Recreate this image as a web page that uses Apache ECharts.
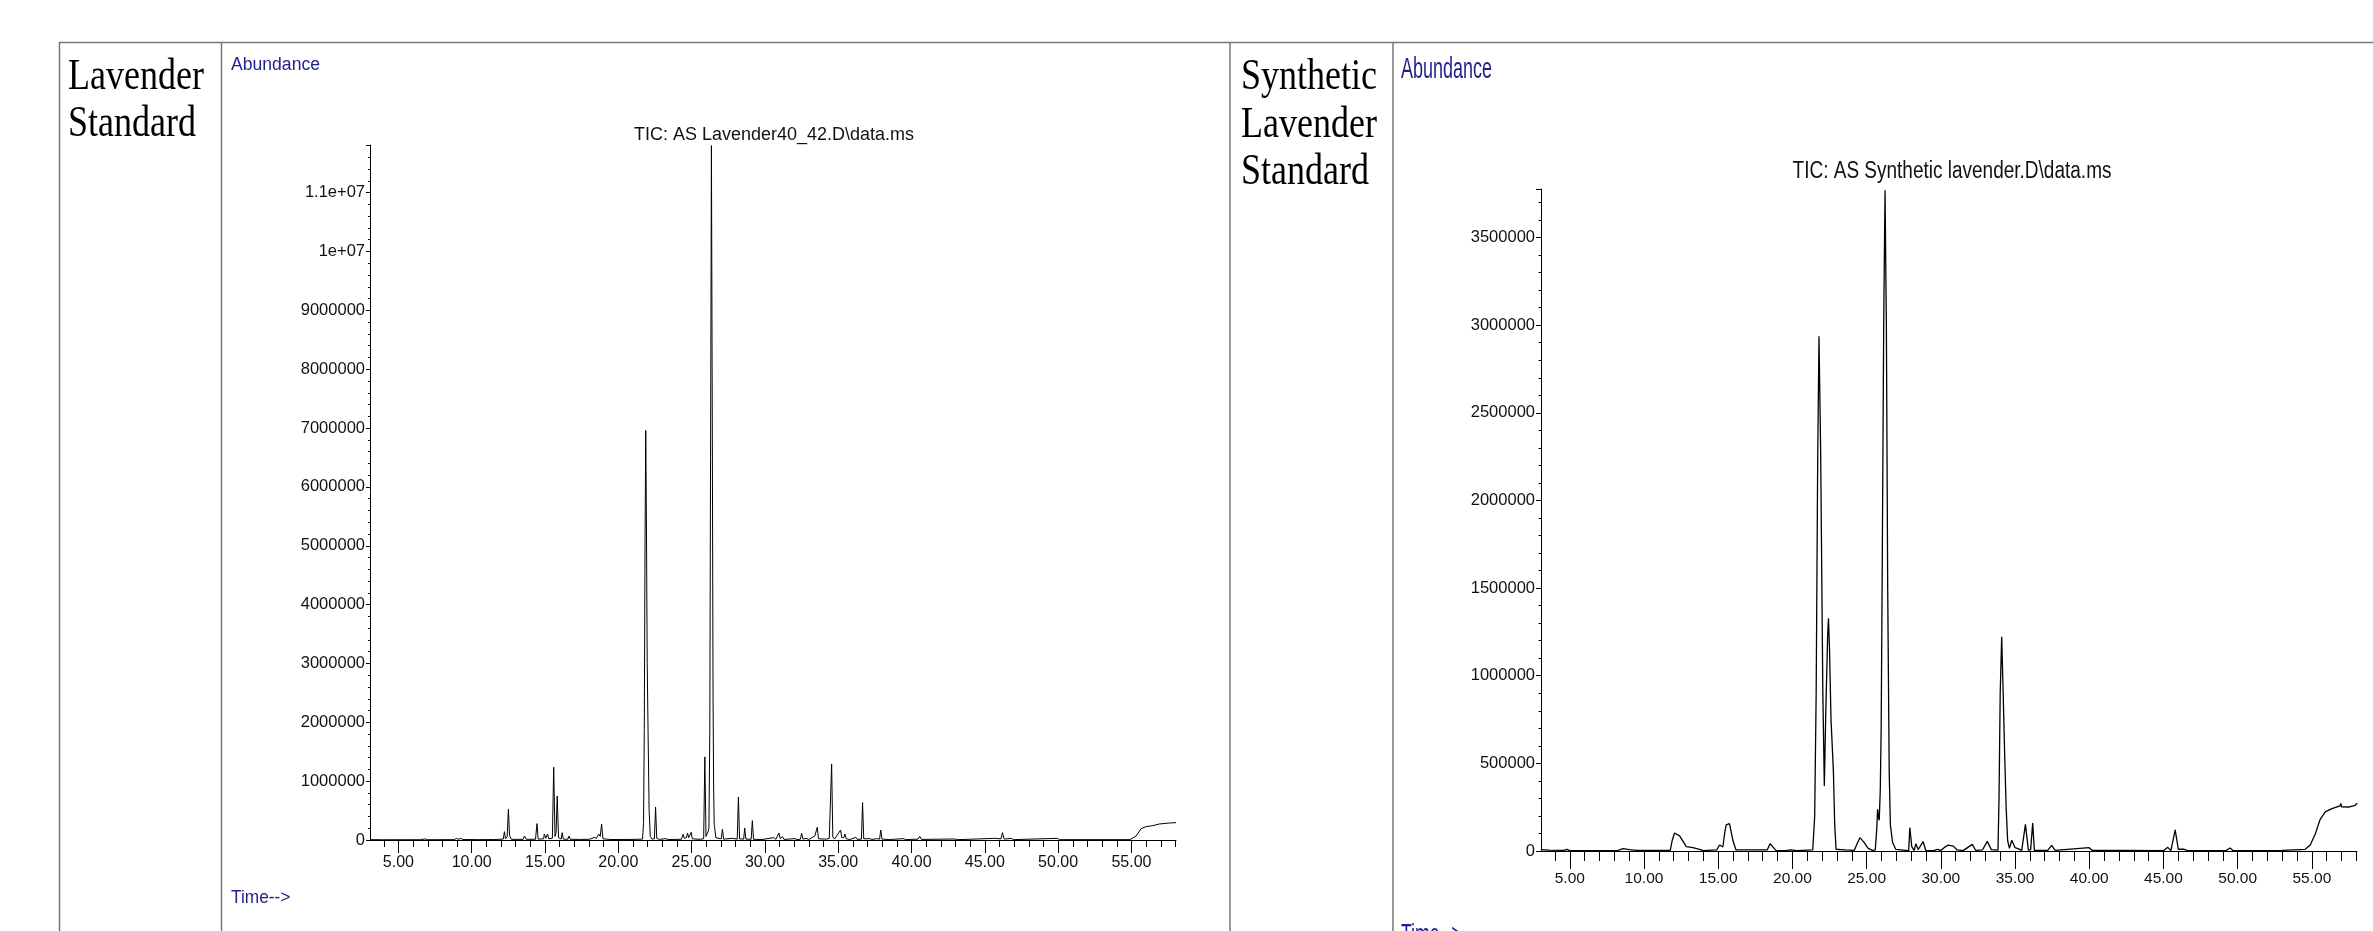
<!DOCTYPE html>
<html>
<head>
<meta charset="utf-8">
<title>TIC chromatograms</title>
<script src="https://cdn.jsdelivr.net/npm/echarts@6/dist/echarts.min.js"></script>
<style>
  html, body { margin: 0; padding: 0; background: #fff; }
  #chart { width: 2373px; height: 931px; }
</style>
</head>
<body>
<div id="chart"></div>
<script>
// [time (min), abundance]
const lavenderTrace = [
  [3.06, 6000], [4.0, 4000], [6.5, 5000], [6.8, 18000], [7.0, 5000],
  [8.8, 6000], [8.95, 25000], [9.1, 12000], [9.25, 28000], [9.4, 8000],
  [10.5, 6000], [11.5, 8000], [12.15, 15000], [12.23, 142000], [12.3, 20000],
  [12.42, 60000], [12.5, 521000], [12.58, 80000], [12.7, 12000],
  [13.5, 10000], [13.6, 68000], [13.72, 12000], [14.35, 12000], [14.45, 278000],
  [14.53, 15000], [14.9, 20000], [14.95, 102000], [15.05, 30000], [15.17, 102000],
  [15.25, 20000], [15.5, 30000], [15.59, 1236000], [15.68, 60000], [15.75, 120000],
  [15.83, 748000], [15.92, 40000], [16.1, 15000], [16.17, 125000], [16.25, 15000],
  [16.55, 12000], [16.63, 68000], [16.72, 12000], [17.25, 10000], [17.33, 40000],
  [17.42, 10000], [18.0, 12000], [18.1, 45000], [18.2, 25000], [18.35, 45000],
  [18.5, 30000], [18.67, 100000], [18.76, 60000], [18.86, 272000], [18.95, 20000],
  [19.5, 8000], [21.0, 10000], [21.65, 15000], [21.72, 300000], [21.77, 1900000],
  [21.82, 5000000], [21.87, 6960000], [21.92, 5200000], [21.97, 3000000],
  [22.03, 1800000], [22.1, 500000], [22.18, 60000], [22.3, 15000],
  [22.46, 20000], [22.54, 561000], [22.62, 30000], [22.8, 10000],
  [23.24, 23000], [23.4, 8000], [24.3, 12000], [24.42, 96000], [24.5, 30000],
  [24.65, 40000], [24.72, 119000], [24.8, 40000], [24.97, 130000], [25.05, 20000],
  [25.5, 12000], [25.82, 20000], [25.9, 1412000], [25.98, 60000], [26.05, 70000],
  [26.12, 142000], [26.18, 200000], [26.24, 1900000], [26.29, 6500000],
  [26.35, 11800000], [26.41, 7000000], [26.46, 2500000], [26.5, 900000],
  [26.54, 260000], [26.57, 215000], [26.65, 40000], [27.02, 20000],
  [27.1, 181000], [27.18, 15000], [27.78, 28000], [27.9, 10000], [28.11, 15000],
  [28.19, 731000], [28.27, 20000], [28.55, 15000], [28.62, 204000], [28.7, 15000],
  [29.06, 12000], [29.14, 329000], [29.22, 12000], [29.8, 8000], [30.6, 40000],
  [30.75, 12000], [30.95, 119000], [31.05, 20000], [31.2, 57000], [31.3, 10000],
  [32.05, 23000], [32.2, 8000], [32.42, 12000], [32.5, 113000], [32.6, 15000],
  [32.8, 28000], [33.0, 10000], [33.4, 68000], [33.5, 40000], [33.57, 215000],
  [33.65, 20000], [34.2, 15000], [34.39, 28000], [34.47, 40000], [34.55, 1293000],
  [34.63, 50000], [34.75, 15000], [35.16, 170000], [35.24, 40000], [35.3, 68000],
  [35.38, 40000], [35.45, 102000], [35.55, 20000], [35.68, 28000], [35.8, 8000],
  [36.2, 45000], [36.3, 10000], [36.58, 15000], [36.66, 635000], [36.74, 20000],
  [37.16, 23000], [37.3, 8000], [37.6, 23000], [37.82, 15000], [37.9, 170000],
  [37.98, 15000], [38.5, 8000], [39.43, 23000], [39.6, 6000], [40.45, 15000],
  [40.56, 62000], [40.68, 10000], [42.95, 17000], [43.1, 5000], [45.67, 28000],
  [45.8, 10000], [46.1, 20000], [46.2, 125000], [46.32, 15000], [46.8, 28000],
  [46.95, 6000], [49.96, 28000], [50.1, 6000], [54.9, 6000], [55.0, 15000],
  [55.32, 68000], [55.66, 193000], [56.0, 227000], [56.46, 244000], [56.9, 272000],
  [57.0, 262000], [57.6, 289000], [58.04, 295000]
];

const syntheticTrace = [
  [3.05, 8000], [3.6, 5000], [4.6, 3000], [4.8, 9000], [5.0, 2000],
  [8.25, 4000], [8.59, 13000], [9.0, 8000], [9.5, 3000], [11.77, 4000],
  [11.9, 60000], [12.06, 103000], [12.4, 86000], [12.85, 25000], [13.3, 19000],
  [13.74, 9500], [14.0, 2000], [14.9, 6000], [15.09, 34000], [15.31, 23000],
  [15.45, 110000], [15.54, 149000], [15.76, 156000], [16.0, 57000], [16.2, 6000],
  [18.3, 6000], [18.5, 42000], [18.9, 2000], [19.6, 3000], [19.9, 6000],
  [20.3, 2000], [21.37, 6000], [21.5, 200000], [21.6, 900000], [21.7, 2200000],
  [21.79, 2937000], [21.9, 2300000], [22.05, 900000], [22.15, 371000],
  [22.25, 800000], [22.38, 1250000], [22.43, 1328000], [22.5, 1150000],
  [22.6, 750000], [22.76, 457000], [22.85, 150000], [22.94, 10000],
  [23.27, 8000], [23.6, 6000], [24.17, 4000], [24.35, 40000], [24.55, 76000],
  [24.84, 48000], [25.1, 15000], [25.4, 4000], [25.58, 6000], [25.68, 120000],
  [25.74, 238000], [25.8, 195000], [25.85, 175000], [25.92, 350000],
  [25.98, 700000], [26.05, 1600000], [26.15, 3000000], [26.24, 3770000],
  [26.33, 3000000], [26.42, 1500000], [26.52, 457000], [26.6, 150000],
  [26.75, 48000], [26.97, 9000], [27.1, 2000], [27.83, 2000], [27.91, 133000],
  [28.04, 25000], [28.2, 3000], [28.32, 42000], [28.47, 8000], [28.81, 53000],
  [28.98, 4000], [29.5, 2000], [29.78, 9500], [30.0, 3000], [30.22, 19000],
  [30.5, 34000], [30.84, 28000], [31.1, 6000], [31.5, 2000], [32.12, 38000],
  [32.35, 3000], [32.8, 6000], [33.13, 55000], [33.4, 8000], [33.85, 5000],
  [33.92, 300000], [34.0, 900000], [34.1, 1223000], [34.2, 900000],
  [34.3, 550000], [34.4, 250000], [34.5, 60000], [34.62, 15000], [34.78, 61000],
  [35.0, 19000], [35.2, 13000], [35.45, 4000], [35.7, 152000], [35.9, 4000],
  [36.05, 8000], [36.19, 160000], [36.3, 4000], [37.2, 4000], [37.47, 32000],
  [37.7, 4000], [39.99, 19000], [40.2, 4000], [42.4, 4000], [45.0, 2000],
  [45.29, 21000], [45.5, 2000], [45.79, 120000], [46.0, 10000], [46.35, 11000],
  [46.6, 3000], [49.2, 2000], [49.49, 17000], [49.7, 2000], [53.0, 4000],
  [54.55, 9500], [54.89, 34000], [55.22, 95000], [55.56, 181000], [55.9, 223000],
  [56.35, 242000], [56.9, 257000], [56.95, 272000], [57.0, 252000],
  [57.47, 251000], [57.92, 261000], [58.05, 272000]
];

// labelled time ticks, and the per-minute small ticks
const timeLabels = [5, 10, 15, 20, 25, 30, 35, 40, 45, 50, 55];
const minuteTicks = [];
for (let m = 4; m <= 58; m++) minuteTicks.push(m);

const titles = ["TIC: AS Lavender40_42.D\\data.ms", "TIC: AS Synthetic lavender.D\\data.ms"];
const sampleNames = ["Lavender\nStandard", "Synthetic\nLavender\nStandard"];

const chart = echarts.init(document.getElementById("chart"), null, { renderer: "canvas" });

const SANS = "Liberation Sans, Arial, sans-serif";
const SERIF = "Liberation Serif, Times New Roman, serif";

function expLabel(v) {
  if (v >= 1e7) return v.toExponential().replace(/e\+(\d)$/, "e+0$1");
  return String(v);
}

// main time axis (labels + long ticks) and a twin for the minute ticks
function timeAxes(grid, fontSize, margin, bigTick, smallTick) {
  return [
    {
      type: "value", gridIndex: grid, min: 3.06, max: 58.04, position: "bottom",
      axisLine: { show: true, onZero: false, lineStyle: { color: "#000", width: 1 } },
      axisTick: { show: true, customValues: timeLabels, length: bigTick, lineStyle: { color: "#000" } },
      axisLabel: {
        show: true, customValues: timeLabels, margin: margin,
        fontFamily: SANS, fontSize: fontSize, color: "#111",
        formatter: v => v.toFixed(2)
      },
      splitLine: { show: false }
    },
    {
      type: "value", gridIndex: grid, min: 3.06, max: 58.04, position: "bottom",
      axisLine: { show: false },
      axisTick: { show: true, customValues: minuteTicks, length: smallTick, lineStyle: { color: "#000" } },
      axisLabel: { show: false },
      splitLine: { show: false }
    }
  ];
}

const option = {
  animation: false,
  backgroundColor: "#fff",
  grid: [
    { left: 370, top: 145, width: 806, height: 695 },
    { left: 1541, top: 189, width: 816, height: 662 }
  ],
  xAxis: [].concat(timeAxes(0, 16, 15, 13, 7), timeAxes(1, 15.5, 20, 18, 10)),
  yAxis: [
    {
      type: "value", gridIndex: 0, min: 0, max: 11810000, interval: 1000000,
      axisLine: { show: true, lineStyle: { color: "#000", width: 1 } },
      axisTick: { show: true, length: 4, lineStyle: { color: "#000" } },
      minorTick: { show: true, splitNumber: 5, length: 2, lineStyle: { color: "#000" } },
      axisLabel: {
        margin: 5, fontFamily: SANS, fontSize: 16.5, color: "#111",
        showMaxLabel: false, formatter: expLabel
      },
      splitLine: { show: false }
    },
    {
      type: "value", gridIndex: 1, min: 0, max: 3777000, interval: 500000,
      axisLine: { show: true, lineStyle: { color: "#000", width: 1 } },
      axisTick: { show: true, length: 5, lineStyle: { color: "#000" } },
      minorTick: { show: true, splitNumber: 5, length: 2.5, lineStyle: { color: "#000" } },
      axisLabel: {
        margin: 6, fontFamily: SANS, fontSize: 16.5, color: "#111",
        showMaxLabel: false, formatter: v => String(v)
      },
      splitLine: { show: false }
    }
  ],
  series: [
    {
      name: titles[0], type: "line", xAxisIndex: 0, yAxisIndex: 0,
      data: lavenderTrace, symbol: "none", silent: true,
      lineStyle: { color: "#000", width: 1 }
    },
    {
      name: titles[1], type: "line", xAxisIndex: 2, yAxisIndex: 1,
      data: syntheticTrace, symbol: "none", silent: true,
      lineStyle: { color: "#000", width: 1.3 }
    }
  ],
  graphic: [
    // table frame
    { type: "line", shape: { x1: 59, y1: 42.5, x2: 2373, y2: 42.5 }, style: { stroke: "#777", lineWidth: 1.5 } },
    { type: "line", shape: { x1: 59.5, y1: 42, x2: 59.5, y2: 931 }, style: { stroke: "#777", lineWidth: 1.5 } },
    { type: "line", shape: { x1: 221.5, y1: 42, x2: 221.5, y2: 931 }, style: { stroke: "#777", lineWidth: 1.5 } },
    { type: "line", shape: { x1: 1230, y1: 42, x2: 1230, y2: 931 }, style: { stroke: "#777", lineWidth: 1.5 } },
    { type: "line", shape: { x1: 1393, y1: 42, x2: 1393, y2: 931 }, style: { stroke: "#777", lineWidth: 1.5 } },

    // sample names
    {
      type: "text", x: 68, y: 100.7, scaleY: 1.25,
      style: { text: sampleNames[0], font: "36px " + SERIF, lineHeight: 37.7, fill: "#000", align: "left", verticalAlign: "middle" }
    },
    {
      type: "text", x: 1241, y: 124.7, scaleY: 1.25,
      style: { text: sampleNames[1], font: "36px " + SERIF, lineHeight: 38, fill: "#000", align: "left", verticalAlign: "middle" }
    },

    // Abundance / Time--> captions
    {
      type: "text", x: 231, y: 65.5, scaleY: 1.0,
      style: { text: "Abundance", font: "17.6px " + SANS, fill: "#1f1f8c", align: "left", verticalAlign: "middle" }
    },
    {
      type: "text", x: 231, y: 897.5, scaleY: 1.1,
      style: { text: "Time-->", font: "17.3px " + SANS, fill: "#1f1f8c", align: "left", verticalAlign: "middle" }
    },
    {
      type: "text", x: 1401, y: 69.7, scaleY: 1.6,
      style: { text: "Abundance", font: "18px " + SANS, fill: "#1f1f8c", align: "left", verticalAlign: "middle" }
    },
    {
      type: "text", x: 1401, y: 935.5, scaleY: 1.6,
      style: { text: "Time-->", font: "17.6px " + SANS, fill: "#1f1f8c", align: "left", verticalAlign: "middle" }
    },

    // data-file titles
    {
      type: "text", x: 774, y: 134.9, scaleY: 1.06,
      style: { text: titles[0], font: "18px " + SANS, fill: "#111", align: "center", verticalAlign: "middle" }
    },
    {
      type: "text", x: 1952, y: 171.7, scaleY: 1.23,
      style: { text: titles[1], font: "19px " + SANS, fill: "#111", align: "center", verticalAlign: "middle" }
    }
  ]
};

chart.setOption(option);
</script>
</body>
</html>
